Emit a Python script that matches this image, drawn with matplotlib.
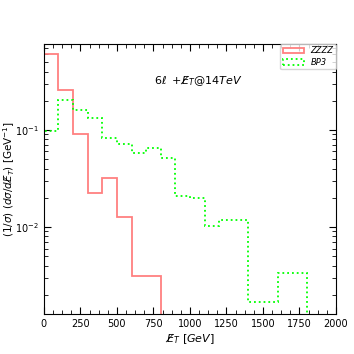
import numpy as np
import matplotlib
matplotlib.use("Agg")
import matplotlib.pyplot as plt
from matplotlib.ticker import MultipleLocator

edges = np.arange(0, 2001, 100)
zzzz = [0.60, 0.257, 0.090, 0.0224, 0.032, 0.0128, 0.00315, 0.00315,
        0, 0, 0, 0, 0, 0, 0, 0, 0, 0, 0, 0]
bp3 = [0.098, 0.205, 0.16, 0.133, 0.083, 0.072, 0.058, 0.065, 0.052, 0.0207,
       0.0198, 0.0102, 0.0118, 0.0118, 0.00168, 0.00168, 0.00338, 0.00338, 0, 0]

centers = (edges[:-1] + edges[1:]) / 2

fig = plt.figure(figsize=(3.54, 3.54), dpi=100)
ax = fig.add_axes([0.124, 0.113, 0.825, 0.763])

ax.hist(centers, bins=edges, weights=zzzz, histtype='step', color='#ff8080',
        linewidth=1.3, label='ZZZZ', log=True)
ax.hist(centers, bins=edges, weights=bp3, histtype='step', color='#00ff00',
        linewidth=1.3, linestyle=':', label='BP3', log=True)

ax.set_xlim(0, 2000)
ax.set_ylim(0.00127, 0.77)
ax.xaxis.set_major_locator(MultipleLocator(250))
ax.xaxis.set_minor_locator(MultipleLocator(62.5))
ax.tick_params(which='both', direction='in', top=True, right=True, labelsize=7)
ax.tick_params(which='major', length=5)
ax.tick_params(which='minor', length=3)

MET = r'{E\not}'
ax.set_xlabel(r'$' + MET + r'_T\ [GeV]$', fontsize=8, labelpad=2)
ax.set_ylabel(r'$(1/\sigma)\ (d\sigma/d' + MET + r'_T)\ [\mathrm{GeV}^{-1}]$',
              fontsize=7.5, labelpad=-1)
ax.text(0.53, 0.863, r'$6\ell\ +\!' + MET + r'_T@14TeV$', transform=ax.transAxes,
        ha='center', va='center', fontsize=8)

leg = ax.legend(loc='upper right', borderaxespad=0.0,
                prop={'style': 'italic', 'size': 6}, handlelength=2.5,
                borderpad=0.3, labelspacing=0.3)
leg.get_frame().set_edgecolor('#cccccc')

fig.savefig('out.png', dpi=100)
